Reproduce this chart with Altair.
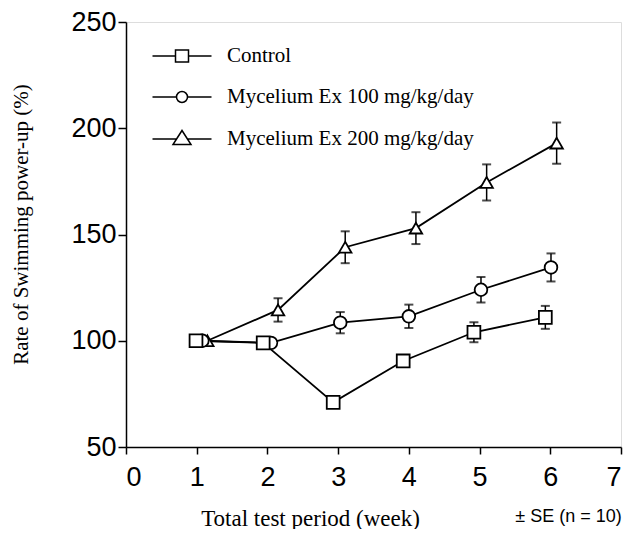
import altair as alt
import pandas as pd

groups = ["Control", "Mycelium Ex 100 mg/kg/day", "Mycelium Ex 200 mg/kg/day"]

control_x = [0.99, 1.94, 2.93, 3.92, 4.92, 5.93]
control_y = [100, 99, 71, 90.5, 104, 111]
control_se = [0, 0, 0, 0, 4.7, 5.4]

myc100_x = [1.08, 2.05, 3.03, 4.0, 5.02, 6.01]
myc100_y = [100, 99, 108.5, 111.5, 124, 134.5]
myc100_se = [0, 0, 5, 5.5, 6, 6.6]

myc200_x = [1.15, 2.15, 3.1, 4.1, 5.1, 6.09]
myc200_y = [100, 114.5, 144, 153, 174.5, 193]
myc200_se = [0, 5.5, 7.5, 7.5, 8.5, 9.7]

x_ticks = [0, 1, 2, 3, 4, 5, 6, 7]
y_ticks = [50, 100, 150, 200, 250]

rows = []
for g, xs, ys, ses in [
    (groups[2], myc200_x, myc200_y, myc200_se),
    (groups[1], myc100_x, myc100_y, myc100_se),
    (groups[0], control_x, control_y, control_se),
]:
    for x, y, s in zip(xs, ys, ses):
        rows.append({"group": g, "week": x, "rate": y, "se": s,
                     "lo": y - s, "hi": y + s})
df = pd.DataFrame(rows)

# legend symbols: line segment with marker in the middle
legend_paths = [
    "M-2.95,0L-0.65,0M0.65,0L2.95,0M-0.65,-0.6L0.65,-0.6L0.65,0.6L-0.65,0.6Z",
    "M-2.95,0L-0.55,0M0.55,0L2.95,0M-0.55,0A0.55,0.55,0,1,1,0.55,0A0.55,0.55,0,1,1,-0.55,0Z",
    "M-2.95,0L-0.55,0M0.55,0L2.95,0M0,-0.85L0.9,0.55L-0.9,0.55Z",
]

xscale = alt.Scale(domain=[0, 7], nice=False)
yscale = alt.Scale(domain=[50, 250], nice=False, zero=False)

xaxis = alt.Axis(values=x_ticks, title="Total test period (week)",
                 titleFont="Liberation Serif", titleFontSize=23,
                 titleFontWeight="normal", titleColor="black",
                 titleX=184, titleY=78, titleBaseline="alphabetic",
                 titleAlign="center",
                 labelFont="Liberation Sans", labelFontSize=27,
                 labelColor="black", labelPadding=10, tickSize=7,
                 tickColor="black", domainColor="black",
                 domainWidth=1.5, tickWidth=1.5, grid=False)
yaxis = alt.Axis(values=y_ticks, title="Rate of Swimming power-up (%)",
                 titleFont="Liberation Serif", titleFontSize=21,
                 titleFontWeight="normal", titleColor="black",
                 titleX=-105, titleY=202, titleAngle=-90,
                 titleBaseline="middle", titleAlign="center",
                 labelFont="Liberation Sans", labelFontSize=27,
                 labelColor="black", labelPadding=2, tickSize=8,
                 tickColor="black", domainColor="black",
                 domainWidth=1.5, tickWidth=1.5, grid=False)

xenc = alt.X("week:Q", scale=xscale, axis=xaxis)
yenc = alt.Y("rate:Q", scale=yscale, axis=yaxis)

base = alt.Chart(df)
errdf = base.transform_filter("datum.se > 0")

rules = errdf.mark_rule(color="black", strokeWidth=1.5).encode(
    x=xenc, y=alt.Y("lo:Q", scale=yscale, axis=yaxis), y2="hi:Q")
caps_hi = errdf.mark_tick(orient="horizontal", size=9, thickness=2,
                          color="black").encode(
    x=xenc, y=alt.Y("hi:Q", scale=yscale, axis=yaxis))
caps_lo = errdf.mark_tick(orient="horizontal", size=9, thickness=2,
                          color="black").encode(
    x=xenc, y=alt.Y("lo:Q", scale=yscale, axis=yaxis))

lines = base.mark_line(color="black", strokeWidth=1.8).encode(
    x=xenc, y=yenc, detail="group:N", order="week:Q")

points = base.mark_point(filled=True, fill="white", stroke="black",
                         strokeWidth=1.8, opacity=1).encode(
    x=xenc, y=yenc,
    shape=alt.Shape("group:N", scale=alt.Scale(domain=groups,
                    range=["square", "circle", "triangle-up"]), legend=None),
    size=alt.Size("group:N", scale=alt.Scale(domain=groups,
                  range=[165, 155, 200]), legend=None),
)

legend_layer = base.mark_point(
    filled=False, color="black", strokeWidth=1.4, size=400, opacity=0).encode(
    x=xenc, y=yenc,
    shape=alt.Shape("group:N", scale=alt.Scale(domain=groups, range=legend_paths),
                    legend=alt.Legend(orient="none", legendX=45, legendY=23,
                                      title=None, labelFont="Liberation Serif",
                                      labelFontSize=21, labelColor="black",
                                      labelOffset=34, labelLimit=500,
                                      symbolSize=400,
                                      symbolStrokeWidth=1.5,
                                      symbolStrokeColor="black",
                                      symbolOpacity=1, rowPadding=20,
                                      padding=0)),
)

chart = alt.layer(rules, caps_hi, caps_lo, lines, points, legend_layer).resolve_scale(
    shape="independent", size="independent"
).properties(
    width=495, height=425,
    autosize=alt.AutoSizeParams(type="none"),
    padding={"left": 118, "top": 14, "right": 7, "bottom": 82},
    title=alt.TitleParams("± SE (n = 10)", orient="bottom", anchor="end",
                          font="Liberation Sans", fontSize=18,
                          fontWeight="normal", color="black", offset=-8,
                          baseline="alphabetic"),
).configure_view(stroke="black", strokeWidth=1.5).configure(background="white")

chart.save("out.html", embed_options={"renderer": "svg", "actions": False})
